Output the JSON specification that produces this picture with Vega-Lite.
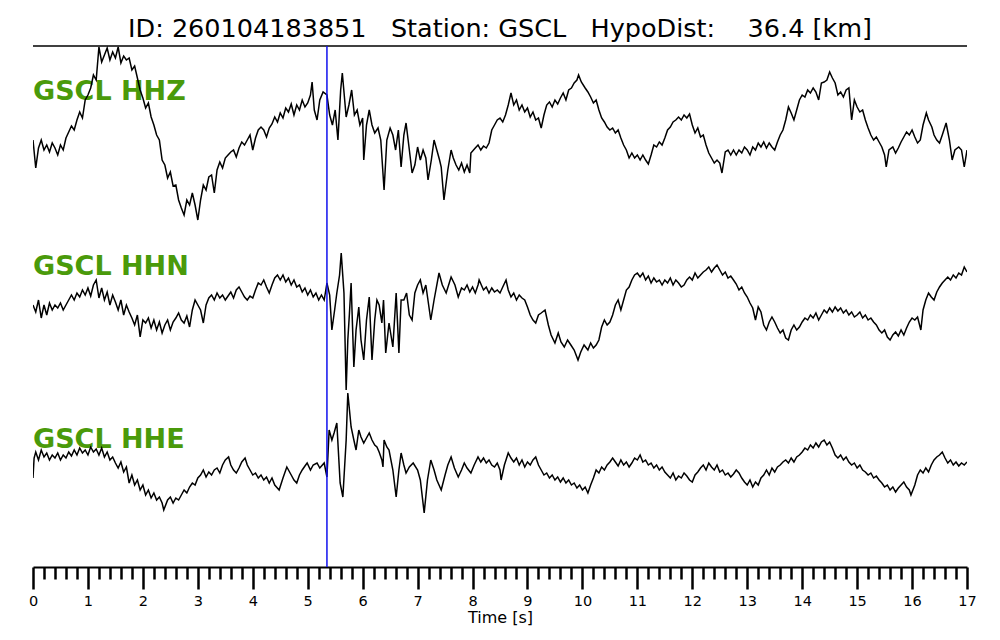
{
  "$schema": "https://vega.github.io/schema/vega-lite/v6.json",
  "width": 934,
  "height": 521,
  "autosize": {"type": "none"},
  "padding": {"left": 33, "top": 46, "right": 33, "bottom": 73},
  "background": "white",
  "config": {"view": {"stroke": null}},
  "title": {
    "text": "ID: 260104183851\u00a0\u00a0\u00a0Station: GSCL\u00a0\u00a0\u00a0HypoDist:\u00a0\u00a0\u00a0\u00a036.4 [km]",
    "font": "DejaVu Sans",
    "fontSize": 25.5,
    "fontWeight": "normal",
    "color": "black",
    "anchor": "middle",
    "baseline": "alphabetic",
    "offset": -17
  },
  "layer": [
    {
      "data": {"values": [
        {"t": 0, "v": 467, "lab": "GSCL HHZ"},
        {"t": 0, "v": 292, "lab": "GSCL HHN"},
        {"t": 0, "v": 119, "lab": "GSCL HHE"}
      ]},
      "mark": {"type": "text", "align": "left", "baseline": "alphabetic", "font": "DejaVu Sans", "fontWeight": "bold", "fontSize": 27, "color": "#4a9a0a"},
      "encoding": {
        "x": {"field": "t", "type": "quantitative", "scale": {"domain": [0, 17], "nice": false, "zero": false}},
        "y": {"field": "v", "type": "quantitative", "scale": {"domain": [0, 521], "nice": false, "zero": false}, "axis": null},
        "text": {"field": "lab"}
      }
    },
    {
      "data": {
        "values": "c,t,v\nZ,0,427\nZ,0.05,399\nZ,0.1,419\nZ,0.15,427\nZ,0.2,417\nZ,0.25,422\nZ,0.3,415\nZ,0.35,424\nZ,0.4,419\nZ,0.45,412\nZ,0.5,422\nZ,0.55,417\nZ,0.6,429\nZ,0.65,435\nZ,0.7,441\nZ,0.75,437\nZ,0.8,447\nZ,0.85,455\nZ,0.9,449\nZ,0.95,467\nZ,1.0,472\nZ,1.05,479\nZ,1.1,492\nZ,1.15,487\nZ,1.2,520\nZ,1.25,505\nZ,1.3,512\nZ,1.35,519\nZ,1.4,507\nZ,1.45,515\nZ,1.5,509\nZ,1.55,520\nZ,1.6,504\nZ,1.65,511\nZ,1.7,507\nZ,1.75,509\nZ,1.8,497\nZ,1.85,501\nZ,1.9,489\nZ,1.95,477\nZ,2.0,469\nZ,2.05,459\nZ,2.1,464\nZ,2.15,450\nZ,2.2,442\nZ,2.25,432\nZ,2.3,427\nZ,2.35,407\nZ,2.4,402\nZ,2.45,389\nZ,2.5,395\nZ,2.55,381\nZ,2.6,382\nZ,2.65,367\nZ,2.7,359\nZ,2.75,352\nZ,2.8,367\nZ,2.85,362\nZ,2.9,374\nZ,2.95,362\nZ,3.0,347\nZ,3.05,367\nZ,3.1,382\nZ,3.15,377\nZ,3.2,390\nZ,3.25,392\nZ,3.3,374\nZ,3.35,397\nZ,3.4,405\nZ,3.45,399\nZ,3.5,409\nZ,3.55,412\nZ,3.6,415\nZ,3.65,417\nZ,3.7,410\nZ,3.75,419\nZ,3.8,425\nZ,3.85,422\nZ,3.9,427\nZ,3.95,432\nZ,4.0,417\nZ,4.05,429\nZ,4.1,437\nZ,4.15,440\nZ,4.2,437\nZ,4.25,430\nZ,4.3,439\nZ,4.35,443\nZ,4.4,450\nZ,4.45,445\nZ,4.5,454\nZ,4.55,449\nZ,4.6,459\nZ,4.65,455\nZ,4.7,463\nZ,4.75,452\nZ,4.8,462\nZ,4.85,457\nZ,4.9,467\nZ,4.95,460\nZ,5.0,464\nZ,5.05,472\nZ,5.08,485\nZ,5.12,457\nZ,5.17,447\nZ,5.22,467\nZ,5.28,475\nZ,5.35,472\nZ,5.4,452\nZ,5.45,442\nZ,5.5,457\nZ,5.55,427\nZ,5.6,477\nZ,5.63,494\nZ,5.7,450\nZ,5.75,462\nZ,5.8,477\nZ,5.85,452\nZ,5.9,457\nZ,5.95,442\nZ,6.0,449\nZ,6.02,407\nZ,6.07,442\nZ,6.12,457\nZ,6.17,442\nZ,6.22,434\nZ,6.28,439\nZ,6.33,427\nZ,6.39,377\nZ,6.44,427\nZ,6.5,439\nZ,6.55,432\nZ,6.6,417\nZ,6.65,437\nZ,6.7,400\nZ,6.75,432\nZ,6.79,444\nZ,6.85,417\nZ,6.9,394\nZ,6.95,402\nZ,7.0,420\nZ,7.05,407\nZ,7.1,417\nZ,7.15,409\nZ,7.19,387\nZ,7.25,407\nZ,7.3,427\nZ,7.35,417\nZ,7.4,407\nZ,7.43,400\nZ,7.48,367\nZ,7.55,397\nZ,7.61,417\nZ,7.65,409\nZ,7.7,402\nZ,7.75,397\nZ,7.8,404\nZ,7.85,395\nZ,7.9,402\nZ,7.95,394\nZ,7.97,414\nZ,8.05,419\nZ,8.1,422\nZ,8.15,417\nZ,8.2,421\nZ,8.25,419\nZ,8.3,424\nZ,8.35,437\nZ,8.4,442\nZ,8.45,447\nZ,8.5,449\nZ,8.55,445\nZ,8.6,452\nZ,8.65,462\nZ,8.7,474\nZ,8.75,462\nZ,8.8,467\nZ,8.85,457\nZ,8.9,462\nZ,8.95,455\nZ,9.0,459\nZ,9.05,450\nZ,9.1,455\nZ,9.15,447\nZ,9.2,449\nZ,9.25,439\nZ,9.3,452\nZ,9.35,462\nZ,9.4,465\nZ,9.45,460\nZ,9.5,467\nZ,9.55,463\nZ,9.6,469\nZ,9.65,474\nZ,9.7,467\nZ,9.75,477\nZ,9.8,479\nZ,9.85,484\nZ,9.9,487\nZ,9.93,492\nZ,9.98,485\nZ,10.05,479\nZ,10.1,475\nZ,10.15,470\nZ,10.2,464\nZ,10.25,467\nZ,10.3,457\nZ,10.35,449\nZ,10.4,445\nZ,10.45,440\nZ,10.5,437\nZ,10.55,439\nZ,10.6,434\nZ,10.65,437\nZ,10.7,429\nZ,10.75,422\nZ,10.8,417\nZ,10.85,409\nZ,10.9,414\nZ,10.95,409\nZ,11.0,412\nZ,11.05,407\nZ,11.1,412\nZ,11.15,407\nZ,11.2,403\nZ,11.25,412\nZ,11.3,422\nZ,11.35,420\nZ,11.4,425\nZ,11.45,422\nZ,11.5,429\nZ,11.55,437\nZ,11.6,440\nZ,11.65,445\nZ,11.7,447\nZ,11.75,450\nZ,11.8,447\nZ,11.85,452\nZ,11.9,449\nZ,11.95,453\nZ,12.0,442\nZ,12.05,434\nZ,12.1,439\nZ,12.15,430\nZ,12.2,432\nZ,12.25,422\nZ,12.3,414\nZ,12.35,409\nZ,12.4,404\nZ,12.45,407\nZ,12.5,404\nZ,12.54,394\nZ,12.6,415\nZ,12.65,417\nZ,12.7,412\nZ,12.75,417\nZ,12.8,412\nZ,12.85,417\nZ,12.9,414\nZ,12.95,420\nZ,13.0,417\nZ,13.05,412\nZ,13.1,420\nZ,13.15,417\nZ,13.2,424\nZ,13.25,420\nZ,13.3,425\nZ,13.35,419\nZ,13.4,424\nZ,13.45,420\nZ,13.5,417\nZ,13.55,425\nZ,13.6,432\nZ,13.65,437\nZ,13.7,447\nZ,13.75,460\nZ,13.8,454\nZ,13.85,447\nZ,13.9,457\nZ,13.95,467\nZ,14.0,472\nZ,14.05,470\nZ,14.1,477\nZ,14.15,474\nZ,14.2,479\nZ,14.25,475\nZ,14.3,467\nZ,14.35,484\nZ,14.4,485\nZ,14.45,487\nZ,14.5,495\nZ,14.55,489\nZ,14.6,484\nZ,14.65,472\nZ,14.7,475\nZ,14.75,470\nZ,14.8,477\nZ,14.85,479\nZ,14.9,447\nZ,14.95,467\nZ,15.0,460\nZ,15.05,455\nZ,15.1,457\nZ,15.15,447\nZ,15.2,439\nZ,15.25,432\nZ,15.3,427\nZ,15.35,430\nZ,15.4,425\nZ,15.45,420\nZ,15.5,412\nZ,15.53,400\nZ,15.58,417\nZ,15.65,420\nZ,15.7,414\nZ,15.75,419\nZ,15.8,425\nZ,15.85,430\nZ,15.9,435\nZ,15.95,432\nZ,16.0,437\nZ,16.05,430\nZ,16.1,424\nZ,16.15,427\nZ,16.2,442\nZ,16.26,454\nZ,16.3,447\nZ,16.36,440\nZ,16.4,432\nZ,16.45,427\nZ,16.5,424\nZ,16.55,432\nZ,16.62,444\nZ,16.68,427\nZ,16.73,407\nZ,16.78,417\nZ,16.85,420\nZ,16.9,417\nZ,16.95,400\nZ,17.0,417\nN,0,262\nN,0.05,255\nN,0.1,267\nN,0.15,249\nN,0.2,262\nN,0.25,252\nN,0.3,264\nN,0.35,257\nN,0.4,262\nN,0.45,259\nN,0.5,264\nN,0.55,257\nN,0.6,262\nN,0.65,267\nN,0.7,272\nN,0.75,267\nN,0.8,274\nN,0.85,270\nN,0.9,277\nN,0.95,272\nN,1.0,279\nN,1.05,271\nN,1.1,282\nN,1.15,287\nN,1.2,269\nN,1.25,279\nN,1.3,267\nN,1.35,275\nN,1.4,262\nN,1.45,272\nN,1.5,265\nN,1.55,257\nN,1.6,267\nN,1.65,252\nN,1.7,262\nN,1.75,255\nN,1.8,249\nN,1.85,242\nN,1.9,252\nN,1.95,230\nN,2.0,247\nN,2.05,244\nN,2.1,249\nN,2.15,239\nN,2.2,247\nN,2.25,237\nN,2.3,245\nN,2.35,234\nN,2.4,242\nN,2.45,247\nN,2.5,237\nN,2.55,245\nN,2.6,249\nN,2.65,254\nN,2.7,247\nN,2.75,244\nN,2.8,251\nN,2.85,240\nN,2.9,257\nN,2.95,267\nN,3.0,262\nN,3.05,257\nN,3.1,244\nN,3.15,262\nN,3.2,269\nN,3.25,272\nN,3.3,267\nN,3.35,274\nN,3.4,269\nN,3.45,272\nN,3.5,267\nN,3.55,271\nN,3.6,275\nN,3.65,269\nN,3.7,277\nN,3.75,280\nN,3.8,275\nN,3.85,270\nN,3.9,267\nN,3.95,271\nN,4.0,269\nN,4.05,277\nN,4.1,284\nN,4.15,282\nN,4.2,287\nN,4.25,280\nN,4.3,274\nN,4.35,282\nN,4.4,289\nN,4.45,292\nN,4.5,287\nN,4.55,292\nN,4.6,285\nN,4.65,289\nN,4.7,282\nN,4.75,287\nN,4.8,280\nN,4.85,282\nN,4.9,275\nN,4.95,279\nN,5.0,272\nN,5.05,277\nN,5.1,270\nN,5.15,274\nN,5.2,267\nN,5.25,272\nN,5.3,267\nN,5.35,284\nN,5.4,272\nN,5.44,237\nN,5.49,257\nN,5.53,274\nN,5.58,292\nN,5.61,314\nN,5.66,274\nN,5.7,177\nN,5.73,227\nN,5.76,254\nN,5.79,284\nN,5.84,200\nN,5.88,237\nN,5.93,260\nN,5.97,227\nN,6.02,207\nN,6.07,247\nN,6.12,270\nN,6.17,207\nN,6.22,247\nN,6.26,267\nN,6.3,262\nN,6.35,244\nN,6.38,267\nN,6.42,214\nN,6.48,244\nN,6.55,220\nN,6.61,274\nN,6.66,214\nN,6.7,267\nN,6.75,267\nN,6.8,274\nN,6.85,252\nN,6.9,247\nN,6.95,274\nN,7.0,282\nN,7.05,287\nN,7.1,274\nN,7.15,282\nN,7.24,247\nN,7.3,267\nN,7.39,294\nN,7.45,282\nN,7.52,274\nN,7.61,290\nN,7.68,282\nN,7.74,270\nN,7.8,279\nN,7.85,277\nN,7.9,282\nN,7.95,275\nN,8.0,280\nN,8.05,274\nN,8.1,282\nN,8.12,287\nN,8.2,277\nN,8.25,280\nN,8.3,274\nN,8.35,279\nN,8.4,275\nN,8.45,277\nN,8.5,274\nN,8.55,280\nN,8.61,287\nN,8.65,277\nN,8.7,270\nN,8.75,274\nN,8.8,267\nN,8.85,272\nN,8.9,269\nN,8.95,267\nN,9.0,260\nN,9.05,252\nN,9.1,247\nN,9.15,244\nN,9.2,252\nN,9.25,254\nN,9.32,257\nN,9.38,242\nN,9.43,232\nN,9.5,224\nN,9.56,234\nN,9.61,225\nN,9.67,220\nN,9.73,227\nN,9.79,222\nN,9.85,217\nN,9.92,207\nN,9.97,215\nN,10.03,222\nN,10.1,217\nN,10.15,224\nN,10.2,219\nN,10.25,222\nN,10.3,227\nN,10.35,240\nN,10.4,247\nN,10.45,242\nN,10.5,245\nN,10.55,252\nN,10.6,262\nN,10.65,267\nN,10.7,257\nN,10.75,267\nN,10.8,277\nN,10.85,280\nN,10.9,287\nN,10.95,292\nN,11.0,294\nN,11.05,290\nN,11.1,294\nN,11.15,287\nN,11.2,291\nN,11.25,284\nN,11.3,289\nN,11.35,285\nN,11.4,287\nN,11.45,282\nN,11.5,287\nN,11.55,284\nN,11.6,289\nN,11.65,282\nN,11.7,287\nN,11.75,284\nN,11.8,280\nN,11.85,282\nN,11.9,287\nN,11.95,290\nN,12.0,287\nN,12.05,294\nN,12.1,289\nN,12.15,292\nN,12.2,295\nN,12.25,297\nN,12.3,300\nN,12.35,295\nN,12.4,299\nN,12.45,302\nN,12.5,297\nN,12.55,292\nN,12.6,295\nN,12.65,289\nN,12.7,291\nN,12.75,287\nN,12.8,283\nN,12.85,277\nN,12.9,280\nN,12.95,274\nN,13.0,270\nN,13.05,264\nN,13.1,259\nN,13.15,247\nN,13.2,260\nN,13.25,255\nN,13.3,242\nN,13.35,237\nN,13.4,245\nN,13.45,250\nN,13.5,245\nN,13.55,239\nN,13.6,234\nN,13.65,237\nN,13.7,229\nN,13.75,227\nN,13.8,237\nN,13.85,242\nN,13.9,237\nN,13.95,240\nN,14.0,245\nN,14.05,249\nN,14.1,247\nN,14.15,252\nN,14.2,249\nN,14.25,254\nN,14.3,247\nN,14.35,252\nN,14.4,257\nN,14.45,254\nN,14.5,259\nN,14.55,255\nN,14.6,260\nN,14.65,256\nN,14.7,259\nN,14.75,254\nN,14.8,257\nN,14.85,252\nN,14.9,255\nN,14.95,250\nN,15.0,252\nN,15.05,255\nN,15.1,249\nN,15.15,252\nN,15.2,247\nN,15.25,249\nN,15.3,245\nN,15.35,242\nN,15.4,237\nN,15.45,234\nN,15.5,237\nN,15.55,230\nN,15.6,227\nN,15.65,232\nN,15.7,235\nN,15.75,231\nN,15.8,237\nN,15.85,232\nN,15.9,239\nN,15.95,245\nN,16.0,249\nN,16.05,247\nN,16.1,250\nN,16.16,237\nN,16.2,257\nN,16.25,267\nN,16.3,274\nN,16.35,270\nN,16.4,267\nN,16.45,275\nN,16.5,280\nN,16.55,284\nN,16.6,287\nN,16.65,290\nN,16.7,287\nN,16.75,292\nN,16.8,289\nN,16.85,294\nN,16.9,292\nN,16.95,300\nN,17.0,295\nE,0,89\nE,0.02,109\nE,0.05,115\nE,0.1,107\nE,0.15,117\nE,0.2,110\nE,0.25,114\nE,0.3,107\nE,0.35,112\nE,0.4,109\nE,0.45,114\nE,0.5,107\nE,0.55,112\nE,0.6,109\nE,0.65,115\nE,0.7,111\nE,0.75,117\nE,0.8,112\nE,0.85,119\nE,0.9,114\nE,0.95,117\nE,1.0,112\nE,1.05,120\nE,1.1,115\nE,1.15,118\nE,1.2,112\nE,1.25,119\nE,1.3,110\nE,1.35,115\nE,1.4,107\nE,1.45,110\nE,1.5,104\nE,1.55,99\nE,1.6,105\nE,1.65,95\nE,1.7,100\nE,1.75,84\nE,1.8,92\nE,1.85,82\nE,1.9,87\nE,1.95,77\nE,2.0,82\nE,2.05,72\nE,2.1,77\nE,2.15,69\nE,2.2,74\nE,2.25,67\nE,2.3,70\nE,2.35,64\nE,2.38,57\nE,2.45,67\nE,2.5,70\nE,2.55,64\nE,2.6,69\nE,2.65,67\nE,2.7,72\nE,2.75,77\nE,2.8,74\nE,2.85,80\nE,2.9,84\nE,2.95,82\nE,3.0,89\nE,3.05,92\nE,3.1,97\nE,3.15,90\nE,3.2,95\nE,3.25,92\nE,3.3,97\nE,3.35,99\nE,3.4,94\nE,3.45,102\nE,3.5,107\nE,3.56,110\nE,3.6,102\nE,3.65,97\nE,3.7,94\nE,3.75,99\nE,3.8,105\nE,3.86,109\nE,3.9,102\nE,3.95,97\nE,4.0,92\nE,4.05,94\nE,4.1,89\nE,4.15,92\nE,4.2,87\nE,4.25,90\nE,4.3,84\nE,4.35,89\nE,4.4,82\nE,4.48,77\nE,4.55,89\nE,4.62,100\nE,4.7,92\nE,4.75,87\nE,4.8,84\nE,4.85,92\nE,4.9,97\nE,4.95,101\nE,4.99,104\nE,5.05,97\nE,5.1,102\nE,5.17,104\nE,5.22,99\nE,5.3,104\nE,5.35,90\nE,5.39,137\nE,5.44,127\nE,5.48,134\nE,5.53,144\nE,5.59,84\nE,5.64,70\nE,5.7,127\nE,5.73,174\nE,5.76,157\nE,5.79,140\nE,5.84,127\nE,5.88,117\nE,5.93,137\nE,5.97,130\nE,6.02,124\nE,6.07,129\nE,6.12,134\nE,6.17,127\nE,6.22,122\nE,6.26,120\nE,6.3,115\nE,6.35,107\nE,6.37,100\nE,6.39,127\nE,6.44,120\nE,6.48,117\nE,6.55,97\nE,6.61,70\nE,6.66,97\nE,6.7,114\nE,6.75,102\nE,6.79,94\nE,6.85,100\nE,6.92,104\nE,7.0,97\nE,7.05,87\nE,7.12,54\nE,7.18,87\nE,7.24,107\nE,7.3,97\nE,7.35,87\nE,7.43,77\nE,7.5,92\nE,7.55,102\nE,7.61,110\nE,7.67,99\nE,7.74,90\nE,7.8,97\nE,7.85,104\nE,7.9,99\nE,7.97,94\nE,8.03,102\nE,8.1,110\nE,8.15,105\nE,8.2,109\nE,8.25,104\nE,8.3,107\nE,8.35,102\nE,8.4,100\nE,8.45,104\nE,8.5,97\nE,8.52,87\nE,8.58,102\nE,8.65,114\nE,8.7,109\nE,8.75,105\nE,8.8,109\nE,8.85,102\nE,8.9,107\nE,8.95,100\nE,9.0,105\nE,9.05,102\nE,9.1,107\nE,9.15,110\nE,9.2,102\nE,9.25,97\nE,9.3,92\nE,9.35,94\nE,9.4,89\nE,9.45,92\nE,9.5,87\nE,9.55,90\nE,9.6,85\nE,9.65,89\nE,9.7,84\nE,9.75,87\nE,9.8,82\nE,9.85,84\nE,9.9,79\nE,9.95,82\nE,10.0,77\nE,10.05,80\nE,10.1,74\nE,10.15,82\nE,10.2,89\nE,10.25,97\nE,10.3,94\nE,10.35,100\nE,10.4,97\nE,10.45,102\nE,10.5,105\nE,10.55,109\nE,10.6,105\nE,10.65,101\nE,10.7,107\nE,10.75,102\nE,10.8,105\nE,10.85,100\nE,10.9,104\nE,10.95,109\nE,11.0,107\nE,11.05,112\nE,11.1,105\nE,11.15,107\nE,11.2,102\nE,11.25,104\nE,11.3,99\nE,11.35,102\nE,11.4,97\nE,11.45,100\nE,11.5,95\nE,11.55,92\nE,11.6,89\nE,11.65,94\nE,11.7,87\nE,11.75,91\nE,11.8,89\nE,11.85,94\nE,11.9,91\nE,11.95,87\nE,12.0,85\nE,12.05,92\nE,12.1,95\nE,12.15,99\nE,12.2,102\nE,12.25,97\nE,12.3,104\nE,12.35,100\nE,12.4,97\nE,12.45,102\nE,12.5,95\nE,12.55,97\nE,12.6,92\nE,12.65,94\nE,12.7,90\nE,12.75,93\nE,12.8,97\nE,12.85,94\nE,12.9,89\nE,12.95,85\nE,13.0,82\nE,13.05,87\nE,13.1,80\nE,13.15,85\nE,13.2,82\nE,13.25,89\nE,13.3,92\nE,13.35,97\nE,13.4,92\nE,13.45,99\nE,13.5,95\nE,13.55,100\nE,13.6,102\nE,13.65,105\nE,13.7,107\nE,13.75,104\nE,13.8,109\nE,13.85,105\nE,13.9,110\nE,13.95,112\nE,14.0,115\nE,14.05,119\nE,14.1,117\nE,14.15,122\nE,14.2,119\nE,14.25,124\nE,14.3,120\nE,14.35,125\nE,14.4,127\nE,14.45,122\nE,14.5,125\nE,14.55,119\nE,14.6,112\nE,14.65,109\nE,14.7,112\nE,14.75,107\nE,14.8,110\nE,14.85,105\nE,14.9,102\nE,14.95,104\nE,15.0,99\nE,15.05,102\nE,15.1,97\nE,15.15,95\nE,15.2,92\nE,15.25,94\nE,15.3,89\nE,15.35,91\nE,15.4,87\nE,15.45,84\nE,15.5,80\nE,15.55,82\nE,15.6,77\nE,15.65,80\nE,15.7,75\nE,15.75,79\nE,15.8,82\nE,15.85,85\nE,15.9,80\nE,15.95,77\nE,15.98,72\nE,16.05,82\nE,16.1,92\nE,16.15,97\nE,16.2,94\nE,16.25,99\nE,16.3,95\nE,16.35,102\nE,16.4,107\nE,16.45,110\nE,16.5,112\nE,16.55,115\nE,16.6,109\nE,16.65,104\nE,16.7,107\nE,16.75,102\nE,16.8,105\nE,16.85,101\nE,16.9,104\nE,16.95,102\nE,17.0,105",
        "format": {"type": "csv", "parse": {"t": "number", "v": "number"}}
      },
      "mark": {"type": "line", "color": "black", "strokeWidth": 1.5, "clip": true},
      "encoding": {
        "x": {
          "field": "t",
          "type": "quantitative",
          "scale": {"domain": [0, 17], "nice": false, "zero": false},
          "axis": {
            "values": [0,0.2,0.4,0.6,0.8,1,1.2,1.4,1.6,1.8,2,2.2,2.4,2.6,2.8,3,3.2,3.4,3.6,3.8,4,4.2,4.4,4.6,4.8,5,5.2,5.4,5.6,5.8,6,6.2,6.4,6.6,6.8,7,7.2,7.4,7.6,7.8,8,8.2,8.4,8.6,8.8,9,9.2,9.4,9.6,9.8,10,10.2,10.4,10.6,10.8,11,11.2,11.4,11.6,11.8,12,12.2,12.4,12.6,12.8,13,13.2,13.4,13.6,13.8,14,14.2,14.4,14.6,14.8,15,15.2,15.4,15.6,15.8,16,16.2,16.4,16.6,16.8,17],
            "tickCount": 200,
            "tickSize": {"condition": {"test": "abs(datum.value - round(datum.value)) < 0.001", "value": 22}, "value": 12},
            "labelExpr": "abs(datum.value - round(datum.value)) < 0.001 ? format(datum.value, 'd') : ''",
            "labelOverlap": false,
            "labelFlush": false,
            "labelPadding": 5,
            "grid": false,
            "domainColor": "black",
            "domainWidth": 2,
            "tickColor": "black",
            "tickWidth": 2.5,
            "labelFont": "DejaVu Sans",
            "labelFontSize": 14.5,
            "labelColor": "black",
            "title": "Time [s]",
            "titleFont": "DejaVu Sans",
            "titleFontSize": 16,
            "titleFontWeight": "normal",
            "titleColor": "black",
            "titlePadding": 2
          }
        },
        "y": {"field": "v", "type": "quantitative", "scale": {"domain": [0, 521], "nice": false, "zero": false}, "axis": null},
        "detail": {"field": "c"}
      }
    },
    {
      "data": {"values": [{"v": 521}]},
      "mark": {"type": "rule", "color": "black", "strokeWidth": 1.5},
      "encoding": {
        "y": {"field": "v", "type": "quantitative", "scale": {"domain": [0, 521], "nice": false, "zero": false}, "axis": null}
      }
    },
    {
      "data": {"values": [{"t": 5.35}]},
      "mark": {"type": "rule", "color": "#1010ee", "strokeWidth": 1.5},
      "encoding": {
        "x": {"field": "t", "type": "quantitative", "scale": {"domain": [0, 17], "nice": false, "zero": false}}
      }
    }
  ]
}
